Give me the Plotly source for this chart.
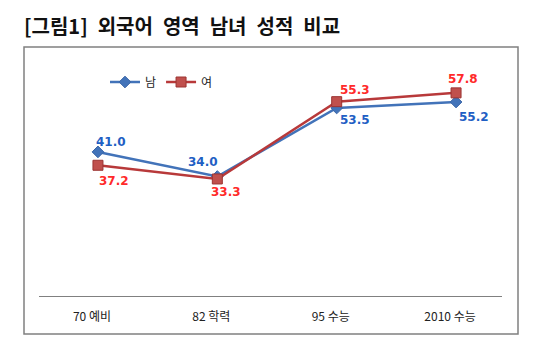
import plotly.graph_objects as go

categories = ["70 예비", "82 학력", "95 수능", "2010 수능"]
male = [41.0, 34.0, 53.5, 55.2]
female = [37.2, 33.3, 55.3, 57.8]
series_names = ["남", "여"]
title_text = "[그림1]\u2002외국어\u2002영역\u2002남녀\u2002성적\u2002비교"

# label offsets (px) relative to each point
male_off = [(13, 10), (-14, 15), (18, -12), (18, -15)]
female_off = [(16, -16), (9, -13), (18, 12), (7, 14)]

BLUE = "#4273B9"
RED = "#B8393A"
BLUE_TXT = "#1F5FC4"
RED_TXT = "#FF2A2A"

fig = go.Figure()
fig.add_trace(go.Scatter(
    x=categories, y=male, name=series_names[0], mode="lines+markers",
    line=dict(color=BLUE, width=2.5),
    marker=dict(symbol="diamond", size=9, color=BLUE, line=dict(color="#3A66A8", width=1)),
))
fig.add_trace(go.Scatter(
    x=categories, y=female, name=series_names[1], mode="lines+markers",
    line=dict(color=RED, width=2.5),
    marker=dict(symbol="square", size=10, color="#C0504D", line=dict(color="#9C3432", width=1)),
))

for vals, offs, col in ((male, male_off, BLUE_TXT), (female, female_off, RED_TXT)):
    for c, v, (dx, dy) in zip(categories, vals, offs):
        fig.add_annotation(
            x=c, y=v, text=f"{v:.1f}", showarrow=False, xshift=dx, yshift=dy,
            font=dict(family="DejaVu Sans", size=12, color=col, weight="bold"),
        )

# outer frame and title
L, R, T, B = 39, 55, 50, 56
W, H = 557, 352
pw, ph = W - L - R, H - T - B
def px(x):
    return (x - L) / pw
def py(y):
    return (H - B - y) / ph

fig.add_shape(type="rect", xref="paper", yref="paper",
              x0=px(24), x1=px(518), y0=py(334), y1=py(47),
              line=dict(color="#808080", width=1.5), fillcolor="rgba(0,0,0,0)", layer="below")

fig.add_annotation(
    xref="paper", yref="paper", x=px(22), y=py(25), xanchor="left", yanchor="middle",
    text=title_text, showarrow=False,
    font=dict(family="Noto Sans CJK KR", size=20, color="#111111", weight="bold"),
)

fig.update_layout(
    width=W, height=H,
    margin=dict(l=L, r=R, t=T, b=B),
    paper_bgcolor="white", plot_bgcolor="white",
    showlegend=True,
    legend=dict(orientation="h", x=px(105), y=py(82), xanchor="left", yanchor="middle",
                font=dict(family="Noto Sans CJK KR", size=12, color="#222222"),
                itemwidth=30, bgcolor="rgba(0,0,0,0)", tracegroupgap=0),
    xaxis=dict(type="category", range=[-0.494, 3.385], showgrid=False, zeroline=False,
               showline=True, linecolor="#808080", linewidth=1.2,
               ticks="", ticklabelstandoff=9, ticklabelshift=-6,
               tickfont=dict(family="Noto Sans CJK KR", size=12, color="#222222")),
    yaxis=dict(range=[0, 70], showgrid=False, zeroline=False, showline=False,
               showticklabels=False, ticks=""),
)

fig.write_html("out.html")
